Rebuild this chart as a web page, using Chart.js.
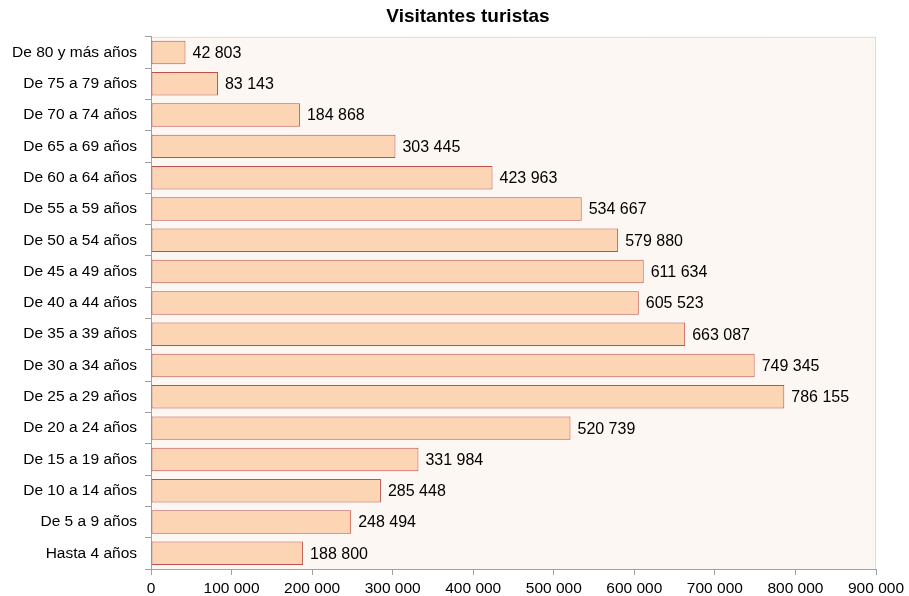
<!DOCTYPE html>
<html>
<head>
<meta charset="utf-8">
<script src="https://cdn.jsdelivr.net/npm/chart.js@4.4.0/dist/chart.umd.min.js"></script>
<style>
  html, body { margin: 0; padding: 0; background: #fff; }
  #wrap { width: 909px; height: 596px; }
</style>
</head>
<body>
<div id="wrap"><canvas id="myChart" width="909" height="596"></canvas></div>
<script>
var edades = ['De 80 y más años', 'De 75 a 79 años', 'De 70 a 74 años', 'De 65 a 69 años',
    'De 60 a 64 años', 'De 55 a 59 años', 'De 50 a 54 años', 'De 45 a 49 años',
    'De 40 a 44 años', 'De 35 a 39 años', 'De 30 a 34 años', 'De 25 a 29 años',
    'De 20 a 24 años', 'De 15 a 19 años', 'De 10 a 14 años', 'De 5 a 9 años', 'Hasta 4 años'];
var visitantes = [42803, 83143, 184868, 303445, 423963, 534667, 579880, 611634,
    605523, 663087, 749345, 786155, 520739, 331984, 285448, 248494, 188800];
var ejeMax = 900000;
var ejePaso = 100000;

var fuente = '"Liberation Sans", Arial, sans-serif';

function formato(n){
    return String(n).replace(/\B(?=(\d{3})+(?!\d))/g, ' ');
}

// fondo del area del grafico y borde
var fondo = {
    id: 'fondo',
    afterLayout: function(chart){
        // el titulo va centrado un poco a la derecha
        if (chart.titleBlock) chart.titleBlock.left = 27;
    },
    beforeDraw: function(chart){
        var a = chart.chartArea, ctx = chart.ctx;
        ctx.save();
        ctx.fillStyle = '#fdf7f3';
        ctx.fillRect(a.left, a.top, a.right - a.left, a.bottom - a.top);
        ctx.strokeStyle = '#dcdcdc';
        ctx.lineWidth = 1;
        ctx.beginPath();
        ctx.moveTo(a.left, a.top + 0.5);
        ctx.lineTo(a.right - 0.5, a.top + 0.5);
        ctx.lineTo(a.right - 0.5, a.bottom);
        ctx.stroke();
        ctx.restore();
    }
};

// etiquetas de valor a la derecha de cada barra
var etiquetas = {
    id: 'etiquetas',
    afterDatasetsDraw: function(chart){
        var ctx = chart.ctx;
        var meta = chart.getDatasetMeta(0);
        ctx.save();
        ctx.font = '16px ' + fuente;
        ctx.fillStyle = '#000';
        ctx.textAlign = 'left';
        ctx.textBaseline = 'middle';
        meta.data.forEach(function(bar, i){
            ctx.fillText(formato(visitantes[i]), bar.x + 7, bar.y + 1);
        });
        ctx.restore();
    }
};

var ctx = document.getElementById('myChart').getContext('2d');
var chart = new Chart(ctx, {
    type: 'bar',
    data: {
        labels: edades,
        datasets: [{
            data: visitantes,
            backgroundColor: '#fcd5b5',
            borderColor: '#c0504d',
            borderWidth: 1,
            borderSkipped: false,
            barPercentage: 0.75,
            categoryPercentage: 1
        }]
    },
    options: {
        indexAxis: 'y',
        responsive: false,
        animation: false,
        layout: { padding: { left: 0, right: 0, top: 0, bottom: 0 } },
        plugins: {
            legend: { display: false },
            tooltip: { enabled: false },
            title: {
                display: true,
                text: 'Visitantes turistas',
                color: '#000',
                font: { family: fuente, size: 19, weight: 'bold' },
                padding: { top: 5, bottom: 9 }
            }
        },
        scales: {
            x: {
                min: 0,
                max: ejeMax,
                ticks: {
                    stepSize: ejePaso,
                    color: '#000',
                    padding: 4,
                    maxRotation: 0,
                    font: { family: fuente, size: 15.5 },
                    callback: function(v){ return formato(v); }
                },
                grid: { drawOnChartArea: false, drawTicks: true, tickLength: 6, color: '#a0a0a0' },
                border: { color: '#a0a0a0' },
                afterFit: function(scale){
                    scale.paddingRight = 33;
                    scale.height = 27;
                }
            },
            y: {
                ticks: {
                    color: '#000',
                    padding: 8,
                    font: { family: fuente, size: 15.5 }
                },
                grid: { drawOnChartArea: false, drawTicks: true, tickLength: 6, color: '#a0a0a0' },
                border: { color: '#a0a0a0' },
                afterFit: function(scale){ scale.width = 151; }
            }
        }
    },
    plugins: [fondo, etiquetas]
});
</script>
</body>
</html>
